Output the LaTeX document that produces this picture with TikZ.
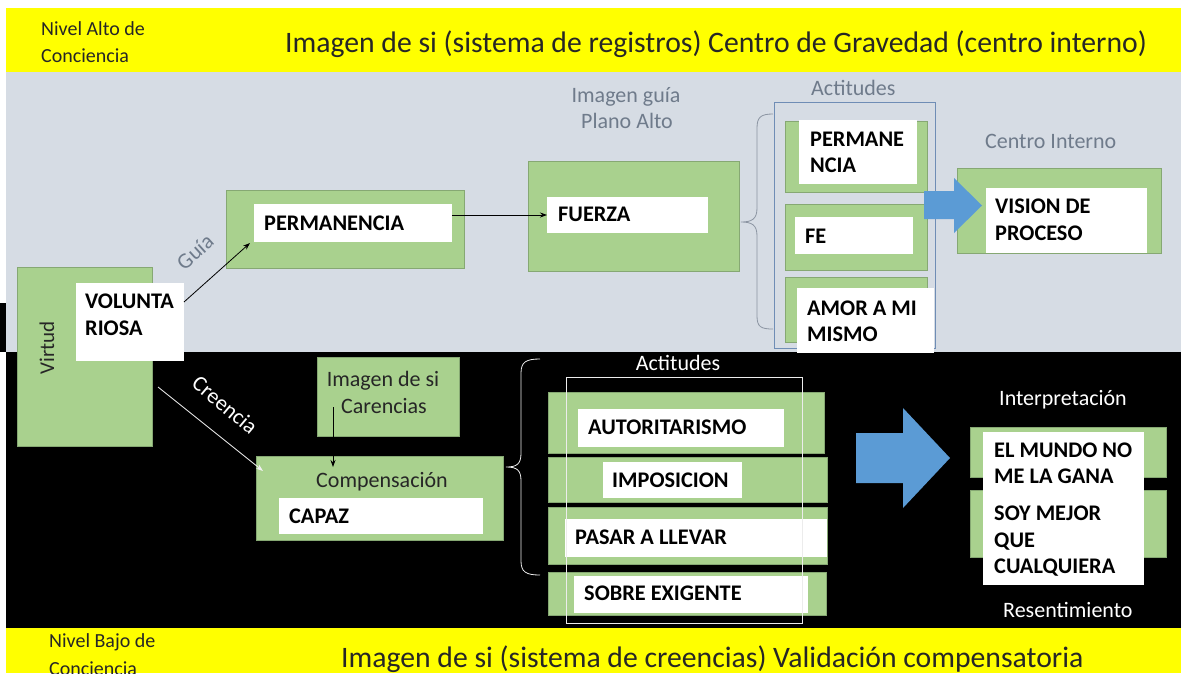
\documentclass[tikz,border=0pt]{standalone}
\usepackage{fontspec}
\setmainfont{Carlito}
\usetikzlibrary{arrows.meta}
\definecolor{ylw}{HTML}{FFFF00}
\definecolor{bggray}{HTML}{D6DCE4}
\definecolor{grn}{HTML}{A9D18E}
\definecolor{grnedge}{HTML}{86A873}
\definecolor{arrowblue}{HTML}{5B9BD5}
\definecolor{lblgray}{HTML}{6F7B8B}
\definecolor{darktxt}{HTML}{262626}
\definecolor{outlineblue}{HTML}{6F8DB5}
\newcommand\mybox[6]{\node[#1, minimum width={(#5-#3)*1pt}, minimum height={(#6-#4)*1pt}] (#2) at ({(#3+#5)/2},{(#4+#6)/2}) {};}
\begin{document}
\begin{tikzpicture}[x=1pt,y=-1pt,
  gbox/.style={fill=grn, draw=grnedge, line width=0.6pt, inner sep=0pt, outer sep=0pt},
  wbox/.style={fill=white, draw=none, inner sep=0pt, outer sep=0pt},
  lbl/.style={font=\fontsize{22.3}{26}\selectfont\bfseries, text=black, inner sep=0pt, anchor=base west},
  glbl/.style={font=\fontsize{22}{26}\selectfont, text=lblgray, inner sep=0pt},
  wlbl/.style={font=\fontsize{22}{26}\selectfont, text=white, inner sep=0pt},
  dlbl/.style={font=\fontsize{22}{26}\selectfont, text=darktxt, inner sep=0pt},
  lvl/.style={font=\fontsize{20}{24}\selectfont, text=darktxt, inner sep=0pt, anchor=base west},
  ttl/.style={font=\fontsize{29.7}{34}\selectfont, text=darktxt, inner sep=0pt, anchor=base west},
  conn/.style={line width=0.8pt, -{Stealth[length=7pt,width=5pt]}},
  bracestyle/.style={line width=0.8pt}
]
\useasboundingbox (0,0) rectangle (1181,673);
% backgrounds
\fill[white] (0,0) rectangle (1181,673);
\fill[ylw] (6,8) rectangle (1181,72);
\fill[bggray] (6,72) rectangle (1181,352);
\fill[black] (6,352) rectangle (1181,628);
\fill[black] (0,303) rectangle (6,352);
\fill[ylw] (6,628) rectangle (1181,673);

% header texts
\node[lvl] (nivA1) at (41,35) {Nivel Alto de};
\node[lvl] (nivA2) at (41,62) {Conciencia};
\node[ttl] (titA) at (285,52) {Imagen de si (sistema de registros) Centro de Gravedad (centro interno)};
\node[lvl] (nivB1) at (49,647) {Nivel Bajo de};
\node[lvl] (nivB2) at (49,675) {Conciencia};
\node[ttl] (titB) at (341,667) {Imagen de si (sistema de creencias) Validación compensatoria};

% top outline (attitudes)
\draw[outlineblue, line width=0.8pt] (774,102) rectangle (935,348);

% green boxes, upper half
\mybox{gbox}{virtudG}{17}{267}{152}{446}
\mybox{gbox}{permG}{226}{190}{464}{268}
\mybox{gbox}{fuerG}{528}{161}{739}{271}
\mybox{gbox}{pnG}{785}{121}{927}{192}
\mybox{gbox}{feG}{785}{204}{927}{270}
\mybox{gbox}{amG}{785}{277}{927}{342}
\mybox{gbox}{visG}{957}{168}{1161}{253}

% top blue block arrow
\fill[arrowblue] (924,191) -- (954,191) -- (954,178) -- (982,205.5) -- (954,233) -- (954,219) -- (924,219) -- cycle;

% white boxes, upper half
\mybox{wbox}{volW}{76}{283}{184}{361}
\mybox{wbox}{permW}{254}{204}{452}{242}
\mybox{wbox}{fuerW}{547}{197}{708}{233}
\mybox{wbox}{pnW}{799}{120}{917}{184}
\mybox{wbox}{feW}{795}{217}{913}{254}
\mybox{wbox}{amW}{797}{288}{934}{353}
\mybox{wbox}{visW}{986}{188}{1147}{253}

% labels upper
\node[lbl] (t1) at (85,308) {VOLUNTA};
\node[lbl] (t2) at (85,335) {RIOSA};
\node[lbl] (t3) at (264,230) {PERMANENCIA};
\node[lbl] (t4) at (558,221) {FUERZA};
\node[lbl] (t5) at (810,146) {PERMANE};
\node[lbl] (t6) at (810,172) {NCIA};
\node[lbl] (t7) at (805,243) {FE};
\node[lbl] (t8) at (807,315) {AMOR A MI};
\node[lbl] (t9) at (807,341) {MISMO};
\node[lbl] (t10) at (995,213) {VISION DE};
\node[lbl] (t11) at (995,240) {PROCESO};

\node[glbl, anchor=base] (ig1) at (626,102) {Imagen guía};
\node[glbl, anchor=base] (ig2) at (627,128) {Plano Alto};
\node[glbl, anchor=base west] (act1) at (811,95) {Actitudes};
\node[glbl, anchor=base west] (ci) at (985,148) {Centro Interno};
\node[glbl, rotate=42] (guia) at (195,252) {Guía};
\node[font=\fontsize{21}{25}\selectfont, text=darktxt, inner sep=0pt, rotate=90] (virt) at (47,348) {Virtud};

% top brace
\draw[bracestyle, lblgray!80] (773,114) .. controls (761,114) and (757,117) .. (757,128) -- (757,208) .. controls (757,219) and (752,222) .. (741,222) .. controls (752,222) and (757,225) .. (757,236) -- (757,316) .. controls (757,327) and (761,329) .. (773,329);

% upper connectors
\draw[conn, black] ([yshift=-19pt]volW.north east) -- ([xshift=-4pt,yshift=-1pt]permW.south west);
\draw[conn, black] (permW.east |- fuerW.west) -- (fuerW.west);

% lower half boxes
\mybox{gbox}{carG}{317}{357}{459}{436}
\mybox{gbox}{compG}{256}{456}{503}{540}
\mybox{wbox}{capW}{279}{498}{483}{534}
\mybox{gbox}{autG}{548}{392}{824}{453}
\mybox{gbox}{impG}{548}{457}{827}{502}
\mybox{gbox}{pasG}{548}{507}{827}{564}
\mybox{gbox}{sobG}{548}{572}{826}{615}
\mybox{wbox}{autW}{578}{409}{784}{447}
\mybox{wbox}{impW}{603}{462}{742}{498}
\mybox{wbox}{pasW}{565}{519}{827}{557}
\mybox{wbox}{sobW}{574}{576}{808}{613}
\mybox{gbox}{munG}{970}{427}{1166}{477}
\mybox{gbox}{soyG}{970}{490}{1166}{557}
\mybox{wbox}{intW}{983}{432}{1144}{585}

% bottom outline
\draw[white!85!gray, line width=0.8pt] (566,377) rectangle (802,623);

% bottom blue block arrow
\fill[arrowblue] (856,433) -- (903,433) -- (903,408) -- (950,458) -- (903,508) -- (903,483) -- (856,483) -- cycle;

% lower texts
\node[dlbl, anchor=base] (cr1t) at (383,386) {Imagen de si};
\node[dlbl, anchor=base] (cr2t) at (384,413) {Carencias};
\node[dlbl, anchor=base] (compt) at (382,487) {Compensación};
\node[lbl] (t12) at (289,523) {CAPAZ};
\node[lbl] (t13) at (588,434) {AUTORITARISMO};
\node[lbl] (t14) at (612,487) {IMPOSICION};
\node[lbl] (t15) at (575,544) {PASAR A LLEVAR};
\node[lbl] (t16) at (584,600) {SOBRE EXIGENTE};
\node[lbl] (t17) at (994,457) {EL MUNDO NO};
\node[lbl] (t18) at (994,483) {ME LA GANA};
\node[lbl] (t19) at (994,520) {SOY MEJOR};
\node[lbl] (t20) at (994,547) {QUE};
\node[lbl] (t21) at (994,573) {CUALQUIERA};
\node[wlbl, anchor=base] (act2) at (678,370) {Actitudes};
\node[wlbl, anchor=base west] (interp) at (999,405) {Interpretación};
\node[wlbl, anchor=base west] (resent) at (1003,617) {Resentimiento};
\node[wlbl, rotate=-40] (creen) at (225,405) {Creencia};

% bottom brace
\draw[bracestyle, white!85!gray] (540,359) .. controls (526,359) and (521,362) .. (521,373) -- (521,453) .. controls (521,464) and (517,467) .. (506,467) .. controls (517,467) and (521,470) .. (521,481) -- (521,561) .. controls (521,572) and (526,575) .. (540,575);

% lower connectors
\draw[conn, white!90!gray] ([xshift=6pt,yshift=-30.5pt]virtudG.east) -- ([xshift=7pt,yshift=-15pt]compG.north west);
\draw[conn, black] ([xshift=16pt,yshift=29pt]carG.south west) -- ([xshift=77pt,yshift=-11pt]compG.north west);
\end{tikzpicture}
\end{document}
